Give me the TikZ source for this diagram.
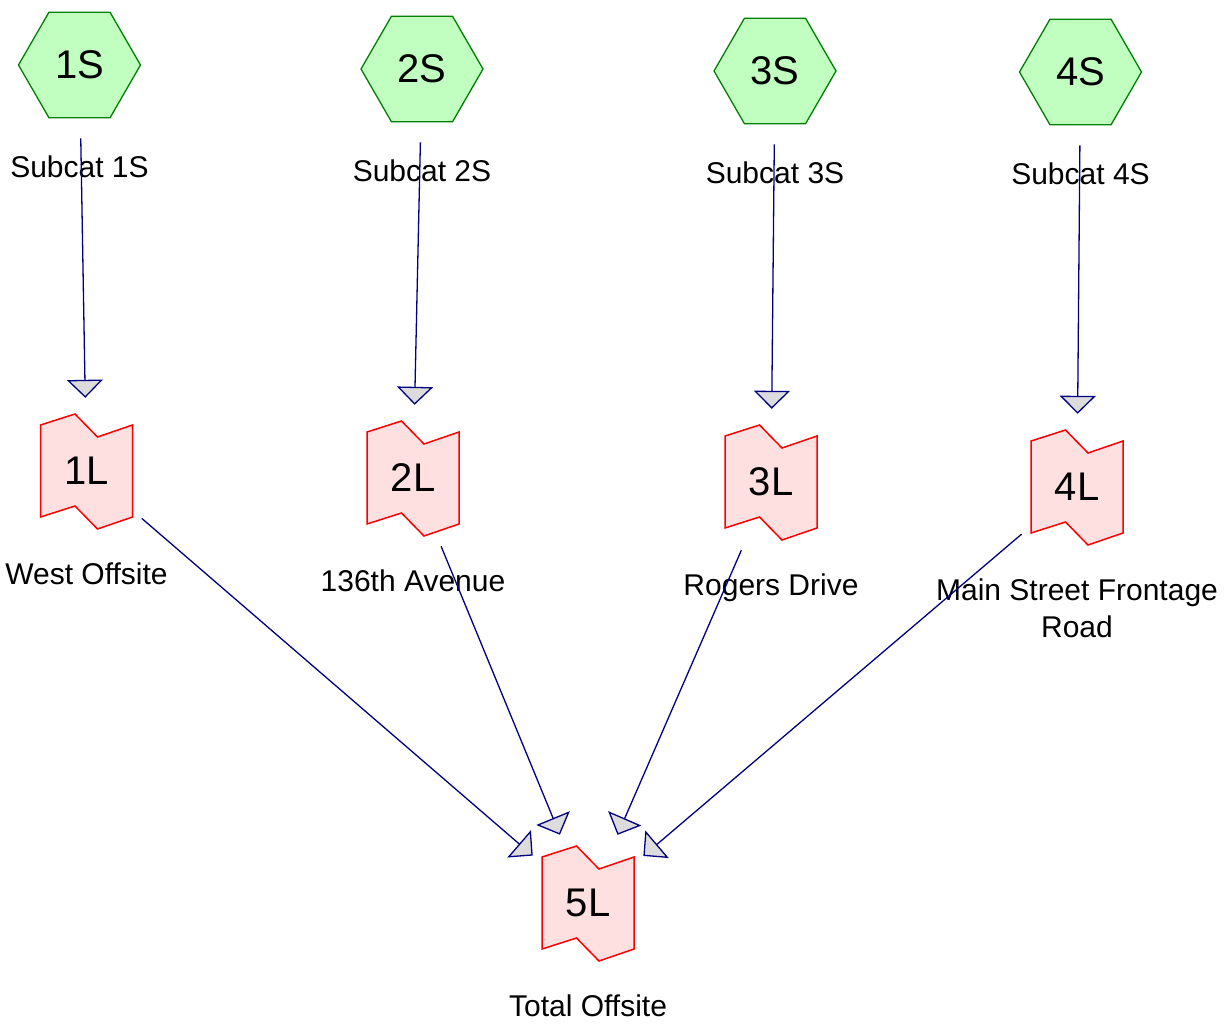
\documentclass[tikz,border=0pt]{standalone}
\usepackage{fontspec}
\setmainfont{Liberation Sans}
\usetikzlibrary{arrows.meta,positioning,shapes.geometric,backgrounds}
\definecolor{subgreen}{HTML}{008000}
\definecolor{subfill}{HTML}{C0FFC0}
\definecolor{pondred}{HTML}{FF0000}
\definecolor{pondfill}{HTML}{FFE0E0}
\definecolor{navy}{HTML}{000080}
\definecolor{tipgray}{HTML}{DCDCDC}
\begin{document}
\begin{tikzpicture}[
x=1pt,y=-1pt,
node distance=34pt,
subcat/.style={regular polygon,regular polygon sides=6,minimum size=122pt,inner sep=0pt,draw=subgreen,fill=subfill,line width=1.3pt,font=\fontsize{40}{44}\selectfont},
pond/.style={rectangle,minimum width=92pt,minimum height=114pt,inner sep=0pt,font=\fontsize{40}{44}\selectfont},
pondline/.style={draw=pondred,fill=pondfill,line width=1.5pt,line join=miter},
tag/.style={inner sep=0pt,align=center,font=\fontsize{30}{37}\selectfont},
flow/.style={-{Triangle[length=18pt,width=36pt,fill=tipgray]},line width=1.3pt,draw=navy},
dropflow/.style={flow,shorten <=20pt,shorten >=16pt},
mergeflow/.style={flow,shorten <=12pt,shorten >=12pt}
]
\useasboundingbox (0,0) rectangle (1225,1025);
\node[subcat] (s1) at (79.5,65) {1S};
\node[subcat] (s2) at (422,69) {2S};
\node[subcat] (s3) at (775,71) {3S};
\node[subcat] (s4) at (1080.5,72) {4S};
\node[tag,below=37pt of s1] (s1tag) {Subcat 1S};
\node[tag,below=37pt of s2] (s2tag) {Subcat 2S};
\node[tag,below=37pt of s3] (s3tag) {Subcat 3S};
\node[tag,below=37pt of s4] (s4tag) {Subcat 4S};
\node[pond] (l1) at (86.5,471) {1L};
\node[pond] (l2) at (413,478) {2L};
\node[pond] (l3) at (771,482) {3L};
\node[pond] (l4) at (1077,487) {4L};
\node[pond] (l5) at (588,903) {5L};
\node[tag,below=of l1] (l1tag) {West Offsite};
\node[tag,below=of l2] (l2tag) {136th Avenue};
\node[tag,below=of l3] (l3tag) {Rogers Drive};
\node[tag,below=of l4] (l4tag) {Main Street Frontage\\Road};
\node[tag,below=of l5] (l5tag) {Total Offsite};
% pond outlines behind the link names
\begin{scope}[on background layer]
\foreach \i in {1,...,5}
  \path[pondline] ([shift={(-46,-46)}]l\i.center) -- ([shift={(-11.5,-57)}]l\i.center) -- ([shift={(11,-34)}]l\i.center) -- ([shift={(46,-46)}]l\i.center)
    -- ([shift={(46,46)}]l\i.center) -- ([shift={(11,58)}]l\i.center) -- ([shift={(-11.5,35)}]l\i.center) -- ([shift={(-46,46)}]l\i.center) -- cycle;
\end{scope}
\draw[dropflow] (s1)--(l1);
\draw[dropflow] (s2)--(l2);
\draw[dropflow] (s3)--(l3);
\draw[dropflow] (s4)--(l4);
\draw[mergeflow] (l1)--(l5);
\draw[mergeflow] (l2)--(l5);
\draw[mergeflow] (l3)--(l5);
\draw[mergeflow] (l4)--(l5);
\end{tikzpicture}
\end{document}
